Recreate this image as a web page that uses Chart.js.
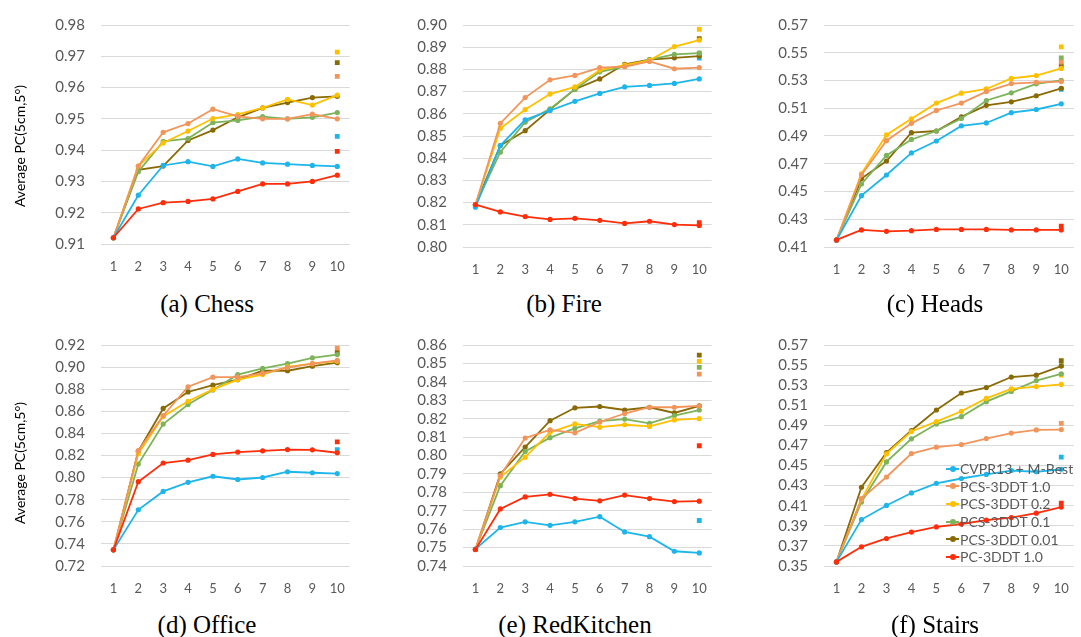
<!DOCTYPE html>
<html>
<head>
<meta charset="utf-8">
<title>Average PC(5cm,5°)</title>
<script src="https://cdn.jsdelivr.net/npm/chart.js@4.4.1/dist/chart.umd.min.js"></script>
<style>
    body { margin: 0; width: 1081px; height: 637px; overflow: hidden; background: #fff; position: relative; font-family: Lato, "Open Sans", sans-serif; }
    canvas { position: absolute; }
    .cap { position: absolute; font-family: "Liberation Serif", "Times New Roman", serif; font-size: 25px; color: #000; white-space: nowrap; transform: translate(-50%, -50%); }
    .ytitle { position: absolute; font-size: 14px; color: #000; white-space: nowrap; transform: translate(-50%, -50%) rotate(-90deg); }
    #legend { position: absolute; left: 946px; top: 460px; font-size: 14px; color: #595959; }
    .item { height: 17.6px; display: flex; align-items: center; white-space: nowrap; }
    .mark { position: relative; width: 13px; height: 2px; margin-right: 1px; }
    .mark i { position: absolute; left: 3.5px; top: -2px; width: 6px; height: 6px; border-radius: 50%; }
</style>
</head>
<body>
<div id="legend"></div>
<script>
// Eixo x (número de hipóteses) e séries
const categories = ['1', '2', '3', '4', '5', '6', '7', '8', '9', '10'];
const seriesNames = ['CVPR13 + M-Best', 'PCS-3DDT 1.0', 'PCS-3DDT 0.2', 'PCS-3DDT 0.1', 'PCS-3DDT 0.01', 'PC-3DDT 1.0'];
const seriesColors = ['#1DB5EA', '#F2955B', '#FFC000', '#7DB35A', '#8A6A05', '#FF2D0A'];

// (a) Chess
const chessCvpr   = [0.9120, 0.9256, 0.9351, 0.9363, 0.9348, 0.9372, 0.9359, 0.9355, 0.9351, 0.9348];
const chessPcs10  = [0.9120, 0.9349, 0.9457, 0.9485, 0.9531, 0.9508, 0.9500, 0.9500, 0.9515, 0.9500];
const chessPcs02  = [0.9120, 0.9349, 0.9423, 0.9461, 0.9501, 0.9514, 0.9535, 0.9562, 0.9544, 0.9576];
const chessPcs01  = [0.9120, 0.9331, 0.9428, 0.9437, 0.9488, 0.9495, 0.9507, 0.9500, 0.9505, 0.9520];
const chessPcs001 = [0.9120, 0.9337, 0.9349, 0.9431, 0.9464, 0.9505, 0.9535, 0.9552, 0.9568, 0.9572];
const chessPc10   = [0.9120, 0.9212, 0.9232, 0.9236, 0.9244, 0.9268, 0.9292, 0.9292, 0.9300, 0.9320];
const chessBest   = [0.9444, 0.9636, 0.9713, null, 0.9680, 0.9396];
const chessTicks  = [0.91, 0.92, 0.93, 0.94, 0.95, 0.96, 0.97, 0.98];

// (b) Fire
const fireCvpr   = [0.8179, 0.8457, 0.8573, 0.8615, 0.8656, 0.8692, 0.8721, 0.8728, 0.8737, 0.8757];
const firePcs10  = [0.8190, 0.8557, 0.8673, 0.8753, 0.8773, 0.8808, 0.8812, 0.8836, 0.8803, 0.8808];
const firePcs02  = [0.8190, 0.8534, 0.8619, 0.8689, 0.8721, 0.8797, 0.8819, 0.8841, 0.8903, 0.8932];
const firePcs01  = [0.8190, 0.8427, 0.8562, 0.8622, 0.8711, 0.8789, 0.8813, 0.8844, 0.8868, 0.8873];
const firePcs001 = [0.8190, 0.8457, 0.8524, 0.8619, 0.8711, 0.8757, 0.8823, 0.8844, 0.8852, 0.8860];
const firePc10   = [0.8191, 0.8158, 0.8137, 0.8124, 0.8129, 0.8120, 0.8106, 0.8116, 0.8101, 0.8097];
const fireBest   = [0.8851, null, 0.8980, 0.8873, 0.8939, 0.8110];
const fireTicks  = [0.80, 0.81, 0.82, 0.83, 0.84, 0.85, 0.86, 0.87, 0.88, 0.89, 0.90];

// (c) Heads
const headsCvpr   = [0.4149, 0.4470, 0.4619, 0.4778, 0.4864, 0.4973, 0.4994, 0.5068, 0.5091, 0.5132];
const headsPcs10  = [0.4150, 0.4620, 0.4866, 0.4991, 0.5084, 0.5137, 0.5220, 0.5278, 0.5287, 0.5292];
const headsPcs02  = [0.4150, 0.4628, 0.4908, 0.5024, 0.5137, 0.5209, 0.5239, 0.5315, 0.5336, 0.5387];
const headsPcs01  = [0.4150, 0.4554, 0.4760, 0.4875, 0.4936, 0.5026, 0.5156, 0.5211, 0.5276, 0.5301];
const headsPcs001 = [0.4150, 0.4593, 0.4720, 0.4924, 0.4936, 0.5038, 0.5121, 0.5146, 0.5190, 0.5244];
const headsPc10   = [0.4151, 0.4223, 0.4213, 0.4218, 0.4227, 0.4227, 0.4227, 0.4223, 0.4223, 0.4223];
const headsBest   = [0.5237, 0.5433, 0.5542, 0.5463, 0.5406, 0.4250];
const headsTicks  = [0.41, 0.43, 0.45, 0.47, 0.49, 0.51, 0.53, 0.55, 0.57];

// (d) Office
const officeCvpr   = [0.7346, 0.7709, 0.7875, 0.7957, 0.8012, 0.7983, 0.8001, 0.8053, 0.8044, 0.8036];
const officePcs10  = [0.7346, 0.8245, 0.8560, 0.8822, 0.8909, 0.8909, 0.8944, 0.8996, 0.9031, 0.9060];
const officePcs02  = [0.7346, 0.8216, 0.8554, 0.8691, 0.8798, 0.8886, 0.8932, 0.9002, 0.9031, 0.9054];
const officePcs01  = [0.7346, 0.8123, 0.8484, 0.8661, 0.8792, 0.8932, 0.8988, 0.9031, 0.9084, 0.9113];
const officePcs001 = [0.7346, 0.8239, 0.8626, 0.8775, 0.8836, 0.8886, 0.8967, 0.8967, 0.9008, 0.9040];
const officePc10   = [0.7346, 0.7963, 0.8132, 0.8158, 0.8210, 0.8231, 0.8242, 0.8254, 0.8251, 0.8225];
const officeBest   = [0.8254, 0.9171, null, null, 0.9133, 0.8324];
const officeTicks  = [0.72, 0.74, 0.76, 0.78, 0.80, 0.82, 0.84, 0.86, 0.88, 0.90, 0.92];

// (e) RedKitchen
const kitchenCvpr   = [0.7492, 0.7609, 0.7640, 0.7621, 0.7640, 0.7668, 0.7585, 0.7559, 0.7480, 0.7471];
const kitchenPcs10  = [0.7490, 0.7891, 0.8095, 0.8139, 0.8123, 0.8182, 0.8228, 0.8262, 0.8262, 0.8269];
const kitchenPcs02  = [0.7490, 0.7883, 0.7991, 0.8126, 0.8172, 0.8154, 0.8167, 0.8158, 0.8193, 0.8200];
const kitchenPcs01  = [0.7490, 0.7836, 0.8022, 0.8097, 0.8147, 0.8187, 0.8198, 0.8175, 0.8217, 0.8247];
const kitchenPcs001 = [0.7490, 0.7900, 0.8046, 0.8189, 0.8259, 0.8266, 0.8247, 0.8262, 0.8231, 0.8269];
const kitchenPc10   = [0.7489, 0.7710, 0.7775, 0.7789, 0.7766, 0.7754, 0.7785, 0.7766, 0.7750, 0.7752];
const kitchenBest   = [0.7647, 0.8442, 0.8511, 0.8479, 0.8545, 0.8053];
const kitchenTicks  = [0.74, 0.75, 0.76, 0.77, 0.78, 0.79, 0.80, 0.81, 0.82, 0.83, 0.84, 0.85, 0.86];

// (f) Stairs
const stairsCvpr   = [0.3541, 0.3962, 0.4103, 0.4227, 0.4323, 0.4371, 0.4412, 0.4450, 0.4438, 0.4463];
const stairsPcs10  = [0.3541, 0.4170, 0.4386, 0.4619, 0.4683, 0.4709, 0.4769, 0.4823, 0.4855, 0.4858];
const stairsPcs02  = [0.3541, 0.4163, 0.4616, 0.4839, 0.4938, 0.5040, 0.5168, 0.5263, 0.5286, 0.5308];
const stairsPcs01  = [0.3541, 0.4138, 0.4536, 0.4766, 0.4913, 0.4986, 0.5136, 0.5238, 0.5346, 0.5413];
const stairsPcs001 = [0.3541, 0.4284, 0.4629, 0.4849, 0.5053, 0.5222, 0.5276, 0.5381, 0.5400, 0.5490];
const stairsPc10   = [0.3541, 0.3691, 0.3774, 0.3838, 0.3889, 0.3918, 0.3956, 0.3982, 0.4026, 0.4087];
const stairsBest   = [0.4584, 0.4919, 0.5400, 0.5496, 0.5544, 0.4125];
const stairsTicks  = [0.35, 0.37, 0.39, 0.41, 0.43, 0.45, 0.47, 0.49, 0.51, 0.53, 0.55, 0.57];

// Painéis: posição na página (coluna, linha) e legenda de baixo
const colLeft = [0, 360, 720];
const colWidth = [360, 362, 364];
const colAxis = [101, 103, 104];

const paineis = [
    { caption: '(a) Chess', col: 0, top: 0, height: 284, capX: 207, capY: 304,
      values: [chessCvpr, chessPcs10, chessPcs02, chessPcs01, chessPcs001, chessPc10], best: chessBest, ticks: chessTicks },
    { caption: '(b) Fire', col: 1, top: 0, height: 287, capX: 564, capY: 304,
      values: [fireCvpr, firePcs10, firePcs02, firePcs01, firePcs001, firePc10], best: fireBest, ticks: fireTicks },
    { caption: '(c) Heads', col: 2, top: 0, height: 287, capX: 935, capY: 304,
      values: [headsCvpr, headsPcs10, headsPcs02, headsPcs01, headsPcs001, headsPc10], best: headsBest, ticks: headsTicks },
    { caption: '(d) Office', col: 0, top: 320, height: 286, capX: 207, capY: 625,
      values: [officeCvpr, officePcs10, officePcs02, officePcs01, officePcs001, officePc10], best: officeBest, ticks: officeTicks },
    { caption: '(e) RedKitchen', col: 1, top: 320, height: 286, capX: 575, capY: 625,
      values: [kitchenCvpr, kitchenPcs10, kitchenPcs02, kitchenPcs01, kitchenPcs001, kitchenPc10], best: kitchenBest, ticks: kitchenTicks },
    { caption: '(f) Stairs', col: 2, top: 320, height: 286, capX: 935, capY: 625,
      values: [stairsCvpr, stairsPcs10, stairsPcs02, stairsPcs01, stairsPcs001, stairsPc10], best: stairsBest, ticks: stairsTicks }
];

function criarPainel(p) {
    const canvas = document.createElement('canvas');
    canvas.width = colWidth[p.col];
    canvas.height = p.height;
    canvas.style.left = colLeft[p.col] + 'px';
    canvas.style.top = p.top + 'px';
    document.body.appendChild(canvas);

    const datasets = [];
    p.values.forEach((vals, i) => {
        datasets.push({
            label: seriesNames[i],
            data: vals,
            borderColor: seriesColors[i],
            backgroundColor: seriesColors[i],
            borderWidth: 1.8,
            pointRadius: 2.6,
            pointBorderWidth: 0,
            tension: 0,
            order: i === 5 ? 0 : i + 1
        });
    });
    // quadrados isolados no ponto 10
    p.best.forEach((v, i) => {
        if (v === null) return;
        datasets.push({
            label: seriesNames[i] + ' (10)',
            data: categories.map((c, k) => k === categories.length - 1 ? v : null),
            showLine: false,
            pointStyle: 'rect',
            pointRadius: 3.4,
            pointBorderWidth: 0,
            backgroundColor: seriesColors[i],
            borderColor: seriesColors[i],
            order: 10 + i
        });
    });

    new Chart(canvas.getContext('2d'), {
        type: 'line',
        data: { labels: categories, datasets: datasets },
        options: {
            responsive: false,
            animation: false,
            layout: { padding: { top: 17, right: 0, bottom: 0, left: 0 } },
            plugins: { legend: { display: false }, tooltip: { enabled: false } },
            scales: {
                x: {
                    offset: true,
                    grid: { display: false, drawTicks: false },
                    border: { display: false },
                    ticks: { color: '#595959', font: { family: 'Lato', size: 13 }, padding: 15, maxRotation: 0, autoSkip: false },
                    afterFit: s => { s.height = 40; }
                },
                y: {
                    min: p.ticks[0],
                    max: p.ticks[p.ticks.length - 1],
                    grid: { color: '#d9d9d9', lineWidth: 1, drawTicks: false },
                    border: { display: false },
                    ticks: { color: '#595959', font: { family: 'Lato', size: 15 }, padding: 16, autoSkip: false, callback: v => v.toFixed(2) },
                    afterBuildTicks: s => { s.ticks = p.ticks.map(v => ({ value: v })); },
                    afterFit: s => { s.width = colAxis[p.col]; }
                }
            }
        }
    });

    const cap = document.createElement('div');
    cap.className = 'cap';
    cap.textContent = p.caption;
    cap.style.left = p.capX + 'px';
    cap.style.top = p.capY + 'px';
    document.body.appendChild(cap);
}

paineis.forEach(criarPainel);

// Título do eixo y (só na coluna da esquerda)
[146, 463].forEach(y => {
    const t = document.createElement('div');
    t.className = 'ytitle';
    t.textContent = 'Average PC(5cm,5°)';
    t.style.left = '19px';
    t.style.top = y + 'px';
    document.body.appendChild(t);
});

// Legenda dentro do painel (f)
const legenda = document.getElementById('legend');
seriesNames.forEach((nome, i) => {
    const item = document.createElement('div');
    item.className = 'item';
    item.innerHTML = `<span class="mark" style="background:${seriesColors[i]}"><i style="background:${seriesColors[i]}"></i></span><span>${nome}</span>`;
    legenda.appendChild(item);
});
document.body.appendChild(legenda);
</script>
</body>
</html>
